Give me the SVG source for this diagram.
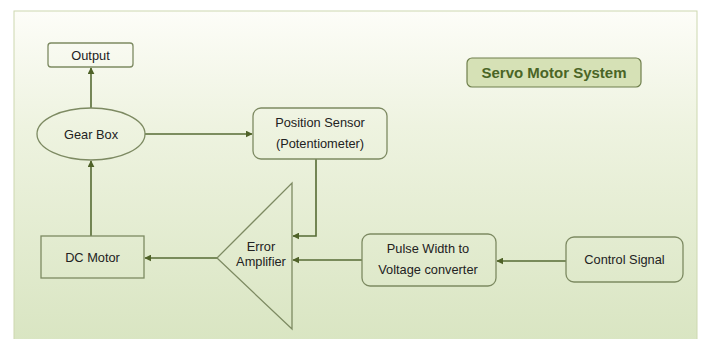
<svg xmlns="http://www.w3.org/2000/svg" width="701" height="339" viewBox="0 0 701 339">
<defs>
<linearGradient id="bg" x1="0" y1="0" x2="0" y2="1">
<stop offset="0" stop-color="#fdfdf8"/>
<stop offset="0.35" stop-color="#eef3e0"/>
<stop offset="1" stop-color="#d9e5c2"/>
</linearGradient>
<marker id="ah" viewBox="0 0 10 10" refX="9" refY="5" markerWidth="7" markerHeight="7" markerUnits="userSpaceOnUse" orient="auto">
<path d="M0,0 L10,5 L0,10 z" fill="#4f6228"/>
</marker>
<style>
.box{fill:none;stroke:#7d8a62;stroke-width:1.3}
.conn{fill:none;stroke:#566b34;stroke-width:1.6;marker-end:url(#ah)}
.t{font-family:"Liberation Sans",Arial,sans-serif;font-size:12.8px;fill:#222222;text-anchor:middle}
.title{font-family:"Liberation Sans",Arial,sans-serif;font-size:15px;font-weight:bold;fill:#4a6526;text-anchor:middle}
</style>
</defs>
<rect x="0" y="0" width="701" height="339" fill="#ffffff"/>
<rect x="14" y="11" width="683" height="330" fill="url(#bg)" stroke="#cdd8b0" stroke-width="1"/>
<g id="connectors">
<line class="conn" x1="91" y1="108" x2="91" y2="68"/>
<line class="conn" x1="145" y1="134" x2="252" y2="134"/>
<polyline class="conn" points="316,159 316,236 293,236"/>
<line class="conn" x1="217" y1="258" x2="145" y2="258"/>
<line class="conn" x1="91" y1="236" x2="91" y2="161"/>
<line class="conn" x1="362" y1="260" x2="293" y2="260"/>
<line class="conn" x1="566" y1="261" x2="497" y2="261"/>
</g>
<g id="output">
<rect class="box" x="48" y="43" width="85" height="24" rx="3"/>
<text class="t" x="90.5" y="59.5">Output</text>
</g>
<g id="gearbox">
<ellipse class="box" cx="91" cy="134" rx="54" ry="26"/>
<text class="t" x="91" y="138.5">Gear Box</text>
</g>
<g id="position-sensor">
<rect class="box" x="253" y="108" width="134" height="51" rx="8"/>
<text class="t" x="320" y="127">Position Sensor</text>
<text class="t" x="320" y="148">(Potentiometer)</text>
</g>
<g id="title">
<rect x="467" y="58" width="174" height="29" rx="5" fill="#d6e1b6" stroke="#6f7f4c" stroke-width="1.2"/>
<text class="title" x="554" y="78">Servo Motor System</text>
</g>
<g id="error-amplifier">
<polygon class="box" points="217,258 292,183 292,329"/>
<text class="t" x="261" y="251">Error</text>
<text class="t" x="261" y="266">Amplifier</text>
</g>
<g id="dc-motor">
<rect class="box" x="41" y="236" width="103" height="42"/>
<text class="t" x="92.5" y="261.5">DC Motor</text>
</g>
<g id="pulse-width">
<rect class="box" x="362" y="234" width="134" height="52" rx="8"/>
<text class="t" x="428" y="253">Pulse Width to</text>
<text class="t" x="428" y="274">Voltage converter</text>
</g>
<g id="control-signal">
<rect class="box" x="566" y="237" width="117" height="45" rx="8"/>
<text class="t" x="624.5" y="263.5">Control Signal</text>
</g>
</svg>
